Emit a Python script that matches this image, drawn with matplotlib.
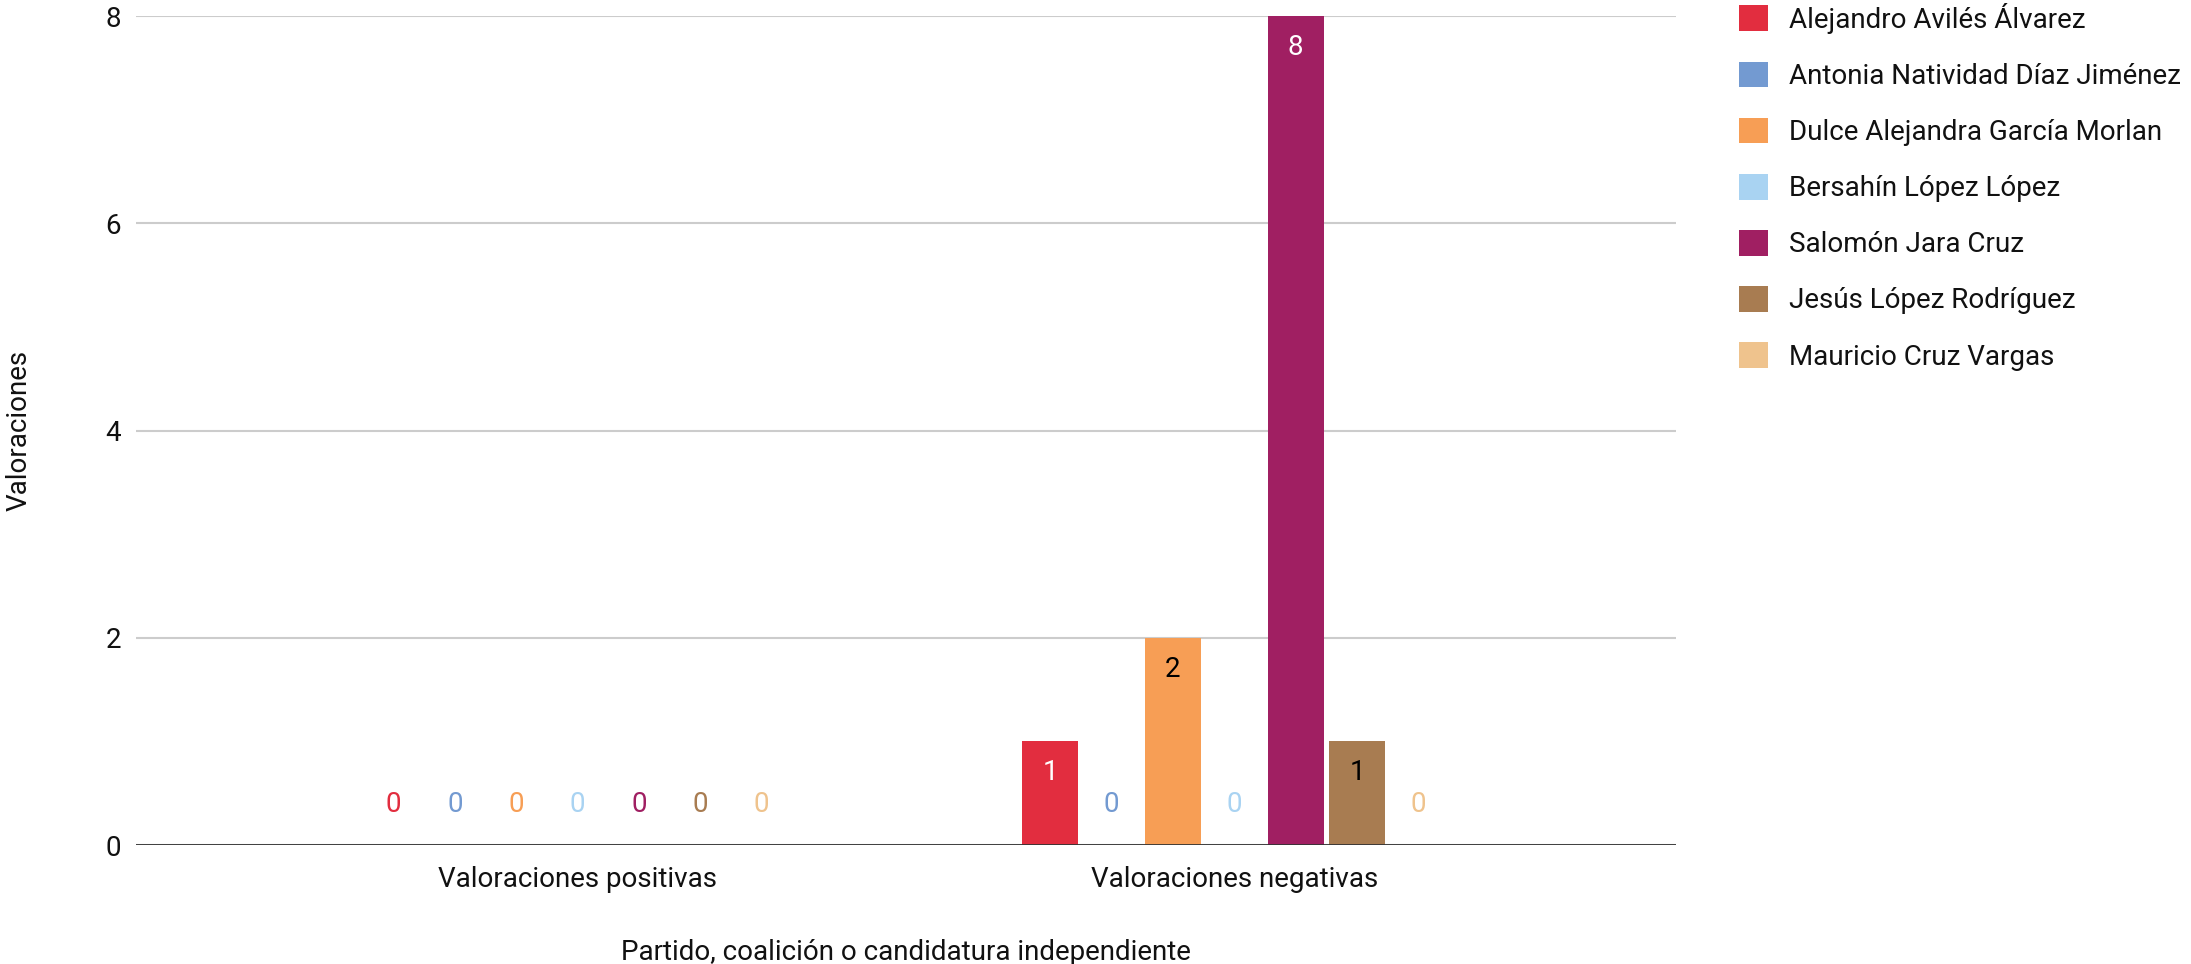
import matplotlib
matplotlib.use("Agg")
import matplotlib.pyplot as plt
import numpy as np

plt.rcParams['font.family'] = ['Roboto', 'DejaVu Sans']

categories = ["Valoraciones positivas", "Valoraciones negativas"]
candidates = [
    "Alejandro Avilés Álvarez",
    "Antonia Natividad Díaz Jiménez",
    "Dulce Alejandra García Morlan",
    "Bersahín López López",
    "Salomón Jara Cruz",
    "Jesús López Rodríguez",
    "Mauricio Cruz Vargas",
]
positivas = [0, 0, 0, 0, 0, 0, 0]
negativas = [1, 0, 2, 0, 8, 1, 0]
colors = ["#e22d3f", "#739ad1", "#f79e55", "#a9d3f2", "#a01f62", "#a87c51", "#efc38d"]
label_colors = ["white", "black", "black", "black", "white", "black", "black"]

txt = "#111111"
fs = 20

fig = plt.figure(figsize=(21.91, 9.64), dpi=100)
ax = fig.add_axes([0.0621, 0.1234, 0.7029, 0.86])

x = np.arange(len(categories))
step = 0.0935
width = 0.0853
for i, name in enumerate(candidates):
    vals = [positivas[i], negativas[i]]
    pos = x + (i - 3) * step
    bars = ax.bar(pos, vals, width, color=colors[i], label=name, zorder=3)
    for b, v in zip(bars, vals):
        cx = b.get_x() + b.get_width() / 2
        if v > 0:
            ax.annotate(str(v), (cx, v), xytext=(0, -22.5), textcoords='offset points',
                        ha='center', va='center', fontsize=fs, color=label_colors[i], zorder=4)
        else:
            ax.annotate(str(v), (cx, 0), xytext=(0, 29), textcoords='offset points',
                        ha='center', va='center', fontsize=fs, color=colors[i], zorder=4)

ax.set_xlim(-0.6725, 1.673)
ax.set_ylim(0, 8)
ax.set_yticks([0, 2, 4, 6, 8])
ax.set_xticks(x)
ax.set_xticklabels(categories, fontsize=fs, color=txt)
ax.tick_params(axis='y', length=0, pad=11, labelsize=fs, labelcolor=txt)
ax.tick_params(axis='x', length=0, pad=15)
ax.grid(axis='y', color="#cccccc", linewidth=1.5, zorder=0)
for s in ax.spines.values():
    s.set_visible(False)
ax.axhline(0, color="#333333", linewidth=2, zorder=5)

ax.set_ylabel("Valoraciones", fontsize=fs, color=txt, labelpad=52)
ax.set_xlabel("Partido, coalición o candidatura independiente", fontsize=fs,
              color=txt, labelpad=33)

fig.legend(loc='upper left', bbox_to_anchor=(1736 / 2191, 1.0), frameon=False,
           fontsize=fs, handlelength=1.05, handleheight=1.05, labelspacing=1.0,
           handletextpad=0.75, borderaxespad=0, borderpad=0.1, labelcolor=txt)

fig.savefig("out.png", dpi=100)
